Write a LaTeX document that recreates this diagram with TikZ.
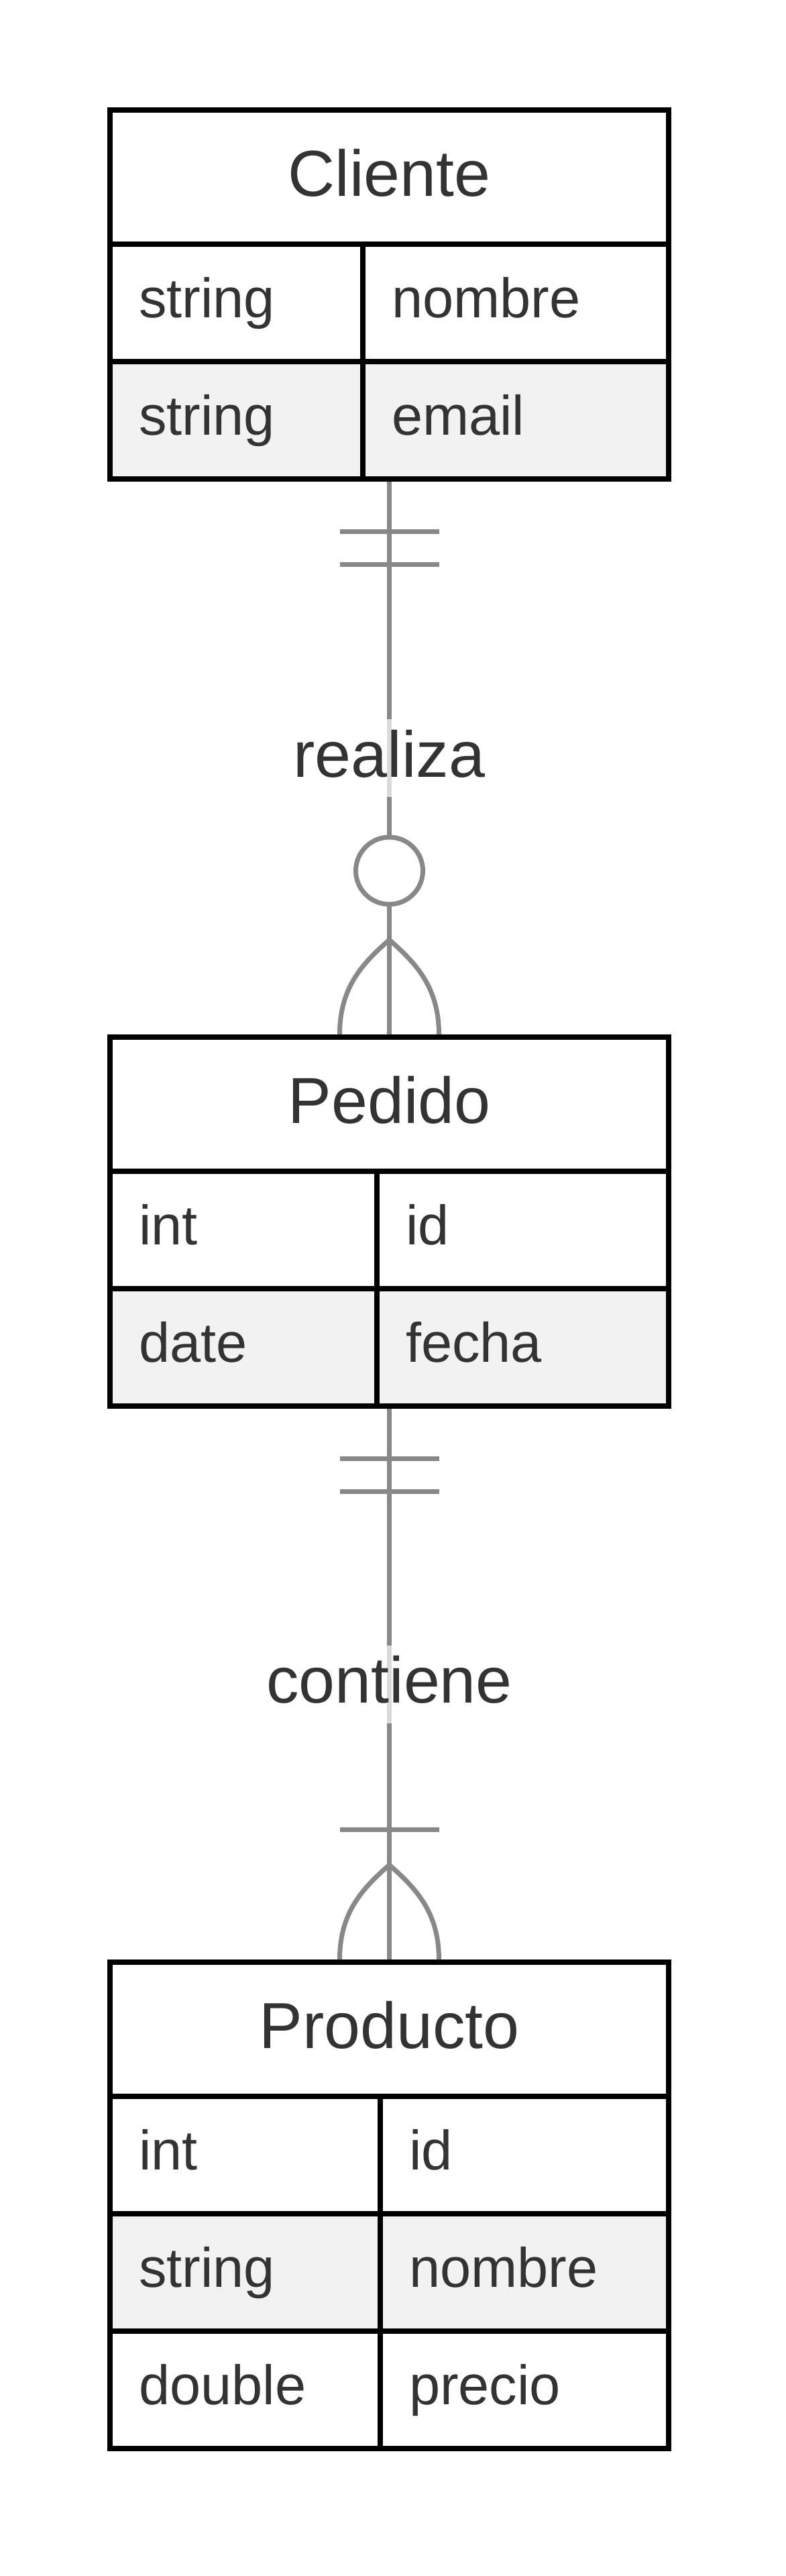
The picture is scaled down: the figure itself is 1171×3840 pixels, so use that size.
\documentclass[tikz,border=0pt]{standalone}
\usepackage{fontspec}
\setmainfont{Liberation Sans}
\usetikzlibrary{fit}

\definecolor{ErText}{HTML}{333333}
\definecolor{ErLine}{HTML}{888888}
\definecolor{ErRow}{HTML}{F2F2F2}

\tikzstyle{entity-title}=[draw=black, line width=8pt, fill=white, outer sep=0pt, minimum width=833pt, minimum height=200pt, text=ErText, font=\fontsize{97}{116}\selectfont, text height=70pt, text depth=14pt]
\tikzstyle{entity-cell}=[draw=black, line width=8pt, fill=white, outer sep=0pt, anchor=north west, minimum height=175pt, inner xsep=43pt, align=left, text=ErText, font=\fontsize{83}{100}\selectfont, text height=60pt, text depth=17pt]
\tikzstyle{entity-box}=[inner sep=0pt, outer sep=4pt]
\tikzstyle{relation}=[draw=ErLine, line width=7pt]
\tikzstyle{relation-label}=[fill=white, fill opacity=0.7, text opacity=1, text=ErText, font=\fontsize{97}{116}\selectfont, text height=70pt, text depth=14pt, inner sep=16pt]
\tikzstyle{zero-mark}=[circle, draw=ErLine, line width=7pt, fill=white, minimum size=100pt, inner sep=0pt]

\begin{document}
\begin{tikzpicture}
      \path[use as bounding box, fill=white] (0pt,0pt) rectangle (1171pt,-3840pt);

      % Cliente
      \node (cliente-title) at (580.5pt,-264pt) [entity-title] {Cliente};
      \node (cliente-type1) at (cliente-title.south west) [entity-cell, text width=291pt] {string};
      \node (cliente-name1) at (cliente-type1.north east) [entity-cell, text width=370pt] {nombre};
      \node (cliente-type2) at (cliente-type1.south west) [entity-cell, text width=291pt, fill=ErRow] {string};
      \node (cliente-name2) at (cliente-type2.north east) [entity-cell, text width=370pt, fill=ErRow] {email};
      \node (cliente-box) [entity-box, fit=(cliente-title)(cliente-name2)] {};

      % Pedido
      \node (pedido-title) at (580.5pt,-1646pt) [entity-title] {Pedido};
      \node (pedido-type1) at (pedido-title.south west) [entity-cell, text width=312pt] {int};
      \node (pedido-name1) at (pedido-type1.north east) [entity-cell, text width=349pt] {id};
      \node (pedido-type2) at (pedido-type1.south west) [entity-cell, text width=312pt, fill=ErRow] {date};
      \node (pedido-name2) at (pedido-type2.north east) [entity-cell, text width=349pt, fill=ErRow] {fecha};
      \node (pedido-box) [entity-box, fit=(pedido-title)(pedido-name2)] {};

      % Producto
      \node (producto-title) at (580.5pt,-3025pt) [entity-title] {Producto};
      \node (producto-type1) at (producto-title.south west) [entity-cell, text width=317pt] {int};
      \node (producto-name1) at (producto-type1.north east) [entity-cell, text width=344pt] {id};
      \node (producto-type2) at (producto-type1.south west) [entity-cell, text width=317pt, fill=ErRow] {string};
      \node (producto-name2) at (producto-type2.north east) [entity-cell, text width=344pt, fill=ErRow] {nombre};
      \node (producto-type3) at (producto-type2.south west) [entity-cell, text width=317pt] {double};
      \node (producto-name3) at (producto-type3.north east) [entity-cell, text width=344pt] {precio};
      \node (producto-box) [entity-box, fit=(producto-title)(producto-name3)] {};

      % Cliente - Pedido
      \draw[relation] (cliente-box.south) -- node[relation-label] {realiza} (pedido-box.north);
      \draw[relation] ([xshift=-74pt,yshift=-74pt]cliente-box.south) -- ([xshift=74pt,yshift=-74pt]cliente-box.south);
      \draw[relation] ([xshift=-74pt,yshift=-123pt]cliente-box.south) -- ([xshift=74pt,yshift=-123pt]cliente-box.south);
      \node (realiza-zero) at ([yshift=244pt]pedido-box.north) [zero-mark] {};
      \coordinate (realiza-tip) at ([yshift=141pt]pedido-box.north);
      \draw[relation] ([xshift=-74pt]pedido-box.north) .. controls +(0pt,70pt) and +(-40pt,-35pt) .. (realiza-tip) .. controls +(40pt,-35pt) and +(0pt,70pt) .. ([xshift=74pt]pedido-box.north);

      % Pedido - Producto
      \draw[relation] (pedido-box.south) -- node[relation-label] {contiene} (producto-box.north);
      \draw[relation] ([xshift=-74pt,yshift=-74pt]pedido-box.south) -- ([xshift=74pt,yshift=-74pt]pedido-box.south);
      \draw[relation] ([xshift=-74pt,yshift=-123pt]pedido-box.south) -- ([xshift=74pt,yshift=-123pt]pedido-box.south);
      \draw[relation] ([xshift=-74pt,yshift=194pt]producto-box.north) -- ([xshift=74pt,yshift=194pt]producto-box.north);
      \coordinate (contiene-tip) at ([yshift=141pt]producto-box.north);
      \draw[relation] ([xshift=-74pt]producto-box.north) .. controls +(0pt,70pt) and +(-40pt,-35pt) .. (contiene-tip) .. controls +(40pt,-35pt) and +(0pt,70pt) .. ([xshift=74pt]producto-box.north);
    \end{tikzpicture}
\end{document}
